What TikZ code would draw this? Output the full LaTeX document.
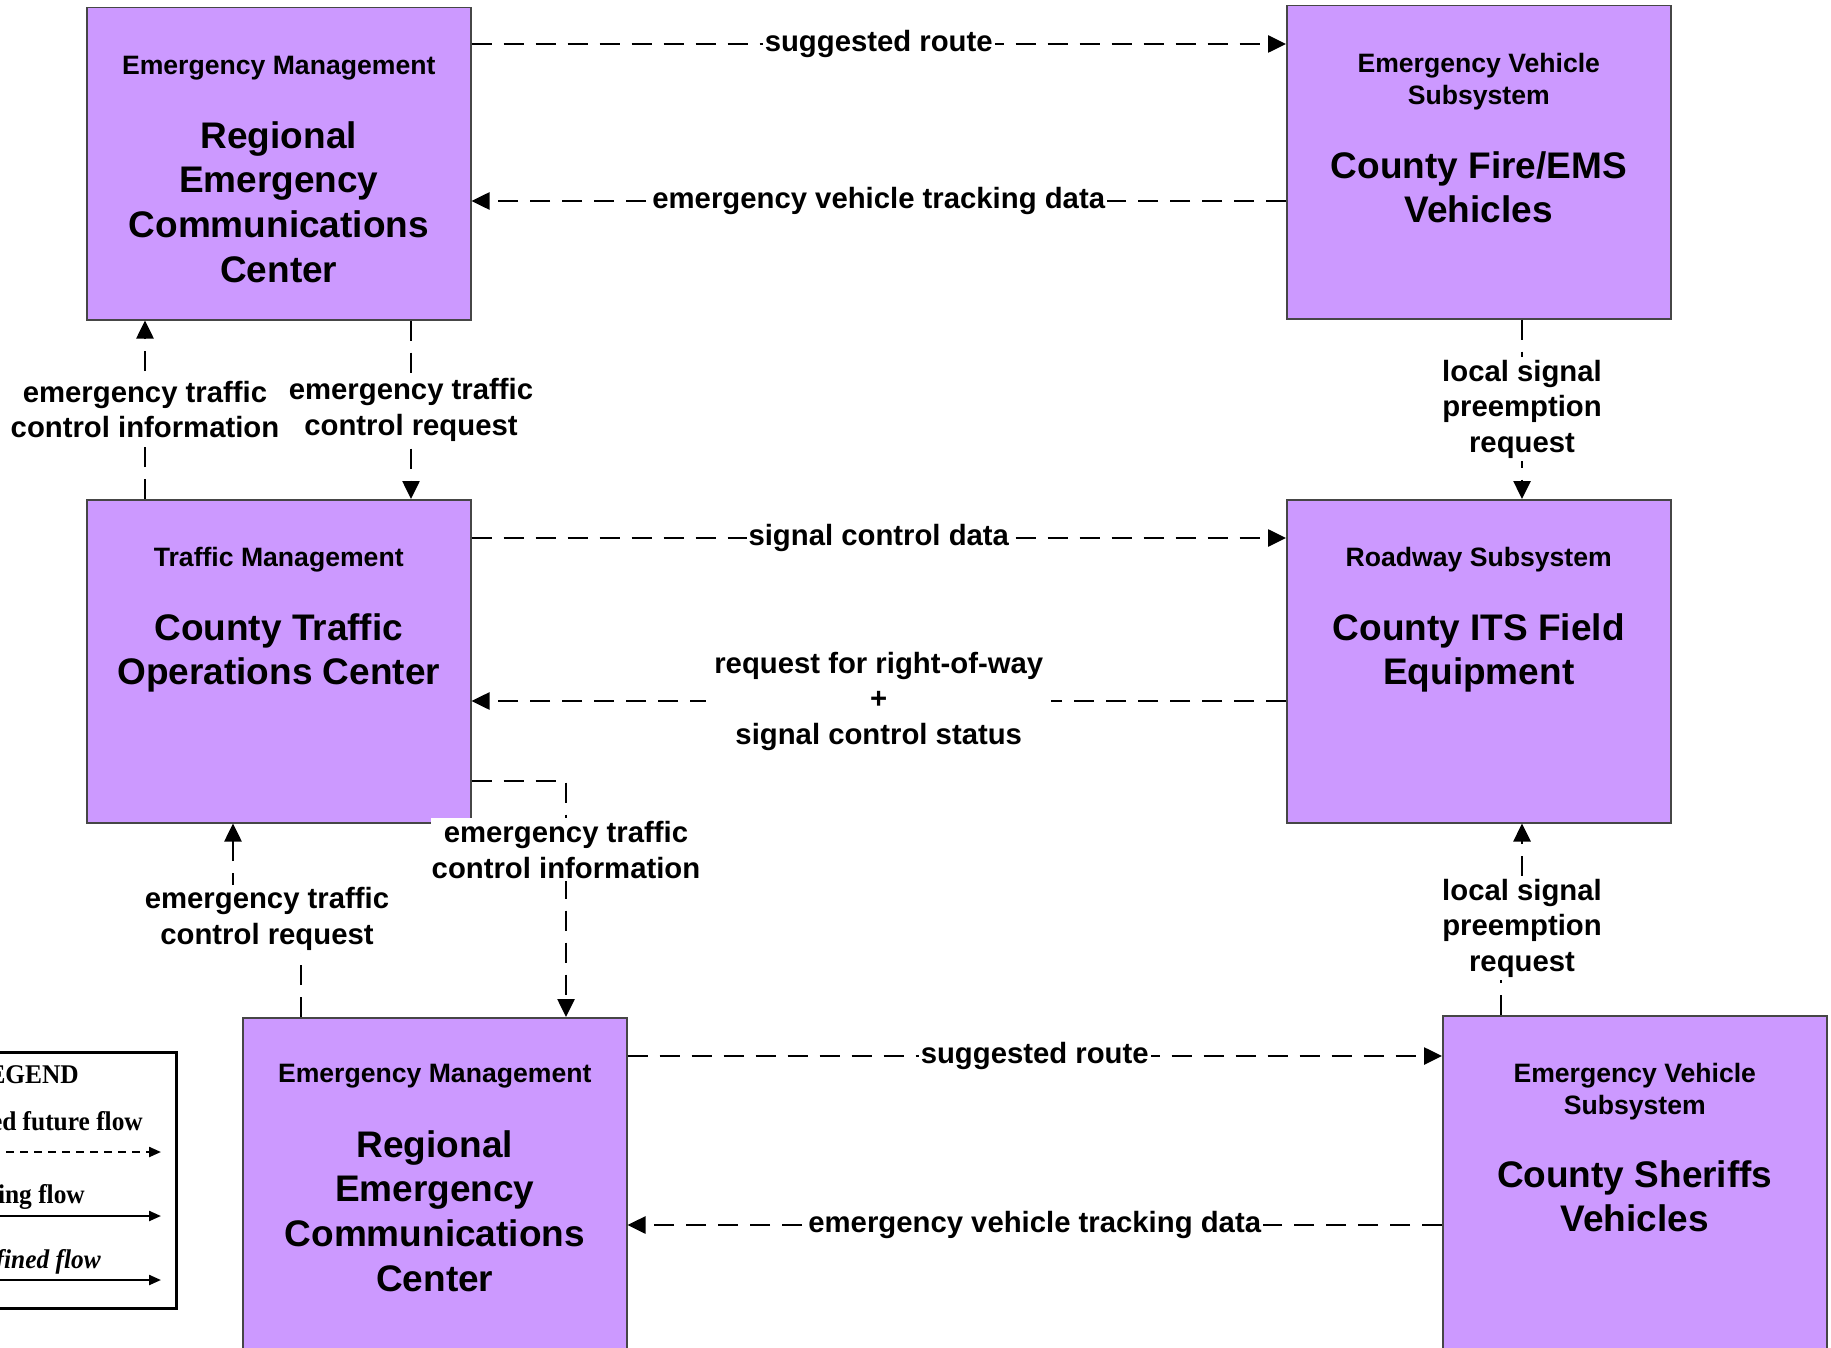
\documentclass[tikz,border=0pt]{standalone}
\usepackage{fontspec}
\setmainfont{Liberation Sans}
\newfontfamily\legserif[FakeStretch=0.94]{Liberation Serif}
\usetikzlibrary{arrows.meta,calc}
\definecolor{boxfill}{RGB}{204,153,255}
\definecolor{boxline}{RGB}{70,70,70}
\newcommand{\hdrfont}{\fontsize{26.6}{31.5}\selectfont\bfseries}
\newcommand{\bxfont}{\fontsize{37}{44.6}\selectfont\bfseries}
\newcommand{\lblfont}{\fontsize{29.3}{35.5}\selectfont\bfseries}
\newcommand{\legfont}{\legserif\fontsize{27}{31}\selectfont\bfseries}
\begin{document}
\begin{tikzpicture}[x=1pt,y=-1pt,
  box/.style={draw=boxline, line width=1.5pt, fill=boxfill, rectangle, anchor=north west, inner sep=0pt, minimum width=384pt},
  hdr/.style={font=\hdrfont, align=center, anchor=north, inner sep=0pt},
  bx/.style={font=\bxfont, align=center, anchor=north, inner sep=0pt},
  lbl/.style={font=\lblfont, align=center, fill=white, inner xsep=2pt, inner ysep=3pt},
  flow/.style={line width=2.6pt, dash pattern=on 20pt off 12pt, -{Triangle[length=18pt,width=17pt]}},
  legtxt/.style={font=\legfont, inner sep=0pt, anchor=base east},
  legline/.style={line width=2.2pt, -{Triangle[length=12pt,width=10pt]}}
]
\useasboundingbox (0,0) rectangle (1831,1348);
\clip (0,0) rectangle (1831,1348);

% boxes
\node[box, minimum height=312pt] (A) at (86,7) {};
\node[box, minimum height=313pt] (B) at (1286,5) {};
\node[box, minimum height=323pt] (C) at (86,499) {};
\node[box, minimum height=323pt] (D) at (1286,499) {};
\node[box, minimum height=420pt] (E) at (242,1017) {};
\node[box, minimum height=420pt] (F) at (1442,1015) {};

% box texts
\node[hdr] (Ah) at ($(A.north)+(0,49.4)$) {Emergency Management};
\node[bx]  (At) at ($(A.north)+(0,114.2)$) {Regional\\Emergency\\Communications\\Center};
\node[hdr] (Bh) at ($(B.north)+(0,48.4)$) {Emergency Vehicle\\Subsystem};
\node[bx]  (Bt) at ($(B.north)+(0,146.2)$) {County Fire/EMS\\Vehicles};
\node[hdr] (Ch) at ($(C.north)+(0,48.4)$) {Traffic Management};
\node[bx]  (Ct) at ($(C.north)+(0,114.2)$) {County Traffic\\Operations Center};
\node[hdr] (Dh) at ($(D.north)+(0,48.4)$) {Roadway Subsystem};
\node[bx]  (Dt) at ($(D.north)+(0,114.2)$) {County ITS Field\\Equipment};
\node[hdr] (Eh) at ($(E.north)+(0,47.4)$) {Emergency Management};
\node[bx]  (Et) at ($(E.north)+(0,113.2)$) {Regional\\Emergency\\Communications\\Center};
\node[hdr] (Fh) at ($(F.north)+(0,48.4)$) {Emergency Vehicle\\Subsystem};
\node[bx]  (Ft) at ($(F.north)+(0,145.2)$) {County Sheriffs\\Vehicles};

% flows
\draw[flow] ($(A.north east)+(0,37)$) -- node[lbl]{suggested route} ($(B.north west)+(0,39)$);
\draw[flow] ($(B.north west)+(0,196)$) -- node[lbl]{emergency vehicle tracking data} ($(A.north east)+(0,194)$);
\draw[flow] ($(C.north west)+(59,0)$) -- node[lbl]{emergency traffic\\control information} ($(A.south west)+(59,0)$);
\draw[flow] ($(A.south west)+(325,0)$) -- node[lbl]{emergency traffic\\control request} ($(C.north west)+(325,0)$);
\draw[flow] ($(B.south west)+(236,0)$) -- node[lbl]{local signal\\preemption\\request} ($(D.north west)+(236,0)$);
\draw[flow] ($(C.north east)+(0,39)$) -- node[lbl]{signal control data} ($(D.north west)+(0,39)$);
\draw[flow] ($(D.north west)+(0,202)$) -- node[lbl, inner xsep=8pt]{request for right-of-way\\+\\signal control status} ($(C.north east)+(0,202)$);
\draw[flow] ($(C.north east)+(0,282)$) -| node[lbl, pos=0.646, inner xsep=1pt]{emergency traffic\\control information} ($(E.north west)+(324,0)$);
\draw[flow] ($(E.north west)+(59,0)$) -- ++(0,-98) -| node[lbl, pos=0.25]{emergency traffic\\control request} ($(C.south west)+(147,0)$);
\draw[flow] ($(F.north west)+(59,0)$) -- ++(0,-87) -| node[lbl, pos=0.5]{local signal\\preemption\\request} ($(D.south west)+(236,0)$);
\draw[flow] ($(E.north east)+(0,39)$) -- node[lbl]{suggested route} ($(F.north west)+(0,41)$);
\draw[flow] ($(F.north west)+(0,210)$) -- node[lbl]{emergency vehicle tracking data} ($(E.north east)+(0,208)$);

% legend
\node[draw, line width=3pt, fill=white, anchor=north east, minimum width=478pt, minimum height=256pt, inner sep=0pt] (leg) at (178,1051) {};
\node[legtxt] (l0) at (79,1083) {LEGEND};
\node[legtxt] (l1) at (143,1130) {Planned future flow};
\node[legtxt] (l2) at (85,1203) {Existing flow};
\node[legtxt] (l3) at (101,1268) {\itshape User defined flow};
\coordinate (d1s) at (-120,1152); \coordinate (d1e) at (161,1152);
\coordinate (d2s) at (-120,1216); \coordinate (d2e) at (161,1216);
\coordinate (d3s) at (-120,1280); \coordinate (d3e) at (161,1280);
\draw[legline, dash pattern=on 8pt off 6pt] (d1s) -- (d1e);
\draw[legline] (d2s) -- (d2e);
\draw[legline] (d3s) -- (d3e);
\end{tikzpicture}
\end{document}
